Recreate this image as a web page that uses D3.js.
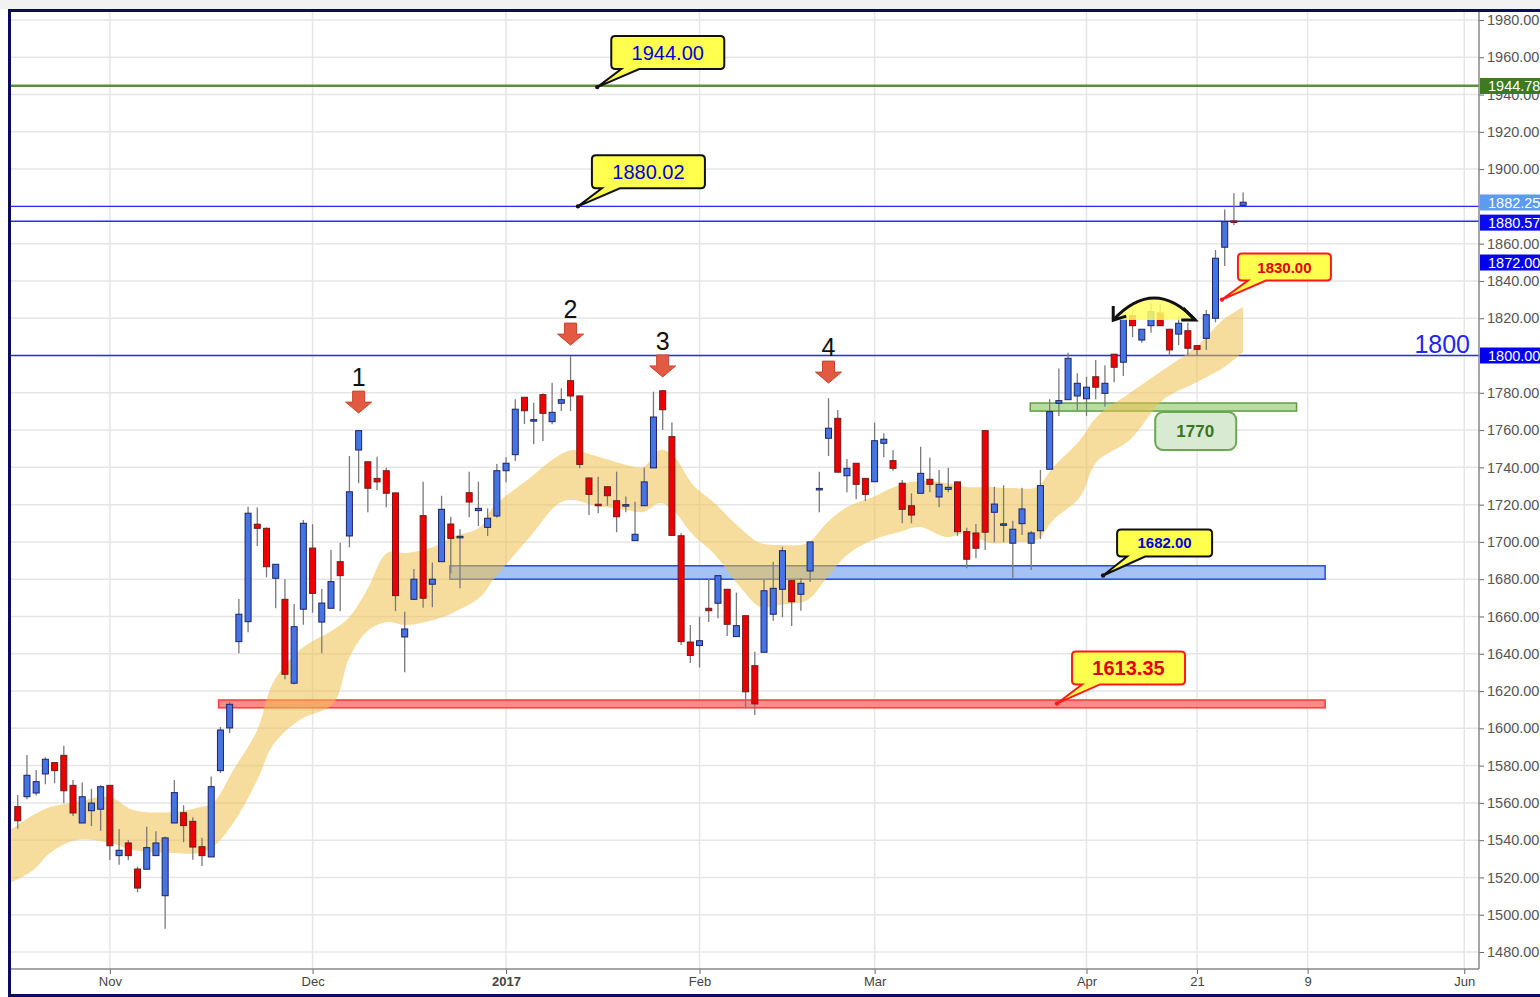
<!DOCTYPE html>
<html>
<head>
<meta charset="utf-8">
<script src="https://cdn.jsdelivr.net/npm/d3@7"></script>
<style>
  body { margin: 0; background: #fff; }
  svg { display: block; font-family: "Liberation Sans", Arial, sans-serif; }
</style>
</head>
<body>
<svg id="chart" width="1540" height="997"></svg>
<script>
// daily candles, index 0 = first bar on the chart (mid Oct 2016)
const openP = [1558.0,1563.3,1565.3,1575.5,1581.6,1585.5,1569.4,1549.2,1555.8,1556.6,
  1569.4,1531.7,1538.5,1524.5,1524.4,1531.7,1510.2,1549.2,1554.7,1550.1,
  1536.5,1531.0,1577.3,1600.2,1646.5,1657.2,1709.5,1707.3,1680.5,1669.2,
  1624.2,1663.9,1696.7,1657.0,1664.4,1689.4,1703.2,1749.3,1743.0,1734.1,
  1738.2,1726.3,1649.0,1669.2,1714.1,1677.3,1689.4,1709.6,1702.5,1726.4,
  1716.8,1707.8,1713.9,1738.2,1746.8,1777.6,1765.2,1779.0,1764.5,1774.4,
  1786.5,1778.3,1734.3,1720.2,1729.6,1722.1,1719.6,1700.7,1719.4,1739.7,
  1781.1,1756.5,1703.3,1646.3,1644.4,1664.4,1667.1,1674.6,1649.2,1660.4,
  1633.6,1640.8,1661.2,1674.6,1679.2,1671.9,1684.4,1728.3,1755.6,1766.3,
  1735.5,1742.2,1734.1,1732.3,1752.9,1743.6,1731.5,1719.4,1726.1,1733.6,
  1724.1,1728.2,1732.2,1705.5,1704.8,1759.7,1715.9,1709.3,1699.3,1709.8,
  1699.3,1706.0,1739.0,1774.4,1776.3,1778.3,1776.8,1788.6,1779.7,1800.7,
  1796.4,1821.4,1808.3,1816.0,1822.8,1814.1,1811.5,1813.3,1805.3,1809.2,
  1820.0,1858.1,1872.2,1880.57];
const highP = [1564.2,1585.7,1577.6,1584.5,1582.0,1590.7,1572.3,1571.0,1567.5,1569.4,
  1569.6,1546.0,1540.1,1525.8,1547.2,1544.8,1541.9,1572.3,1558.7,1552.3,
  1541.3,1574.1,1600.7,1614.1,1669.4,1718.9,1718.4,1707.8,1688.2,1680.0,
  1666.7,1711.8,1709.5,1674.7,1695.7,1699.6,1746.1,1759.7,1743.2,1745.7,
  1739.8,1726.5,1662.6,1685.5,1732.3,1688.9,1724.8,1713.5,1706.8,1737.7,
  1732.3,1718.0,1741.8,1745.4,1776.5,1777.8,1774.7,1779.7,1785.4,1782.4,
  1799.7,1778.5,1734.5,1735.0,1729.8,1737.7,1724.3,1721.6,1739.8,1780.6,
  1781.3,1764.0,1704.6,1655.4,1659.9,1680.1,1681.9,1674.8,1672.8,1660.6,
  1641.1,1679.6,1689.4,1697.4,1679.4,1680.5,1700.0,1737.7,1777.1,1770.8,
  1744.5,1742.4,1734.3,1764.0,1758.3,1749.3,1733.2,1726.1,1751.1,1745.2,
  1738.6,1739.8,1732.4,1707.6,1709.6,1759.9,1729.6,1730.4,1711.4,1729.1,
  1705.9,1738.6,1776.5,1793.1,1801.5,1790.5,1788.6,1797.6,1794.8,1800.9,
  1820.3,1824.8,1814.1,1828.0,1827.6,1814.3,1820.8,1817.6,1805.5,1824.4,
  1856.6,1878.4,1887.0,1887.4];
const lowP = [1546.1,1561.9,1563.9,1570.0,1570.5,1559.8,1553.0,1549.2,1547.6,1545.1,
  1529.4,1526.8,1529.4,1512.0,1524.4,1531.7,1492.5,1549.2,1538.9,1529.5,
  1526.1,1531.0,1576.0,1597.5,1640.3,1651.5,1697.8,1681.0,1664.4,1626.3,
  1623.6,1655.6,1662.0,1640.3,1664.4,1662.9,1697.1,1731.5,1715.9,1727.9,
  1718.6,1662.9,1630.1,1669.2,1664.7,1664.9,1689.4,1683.2,1675.1,1713.2,
  1708.5,1703.2,1713.0,1732.0,1743.4,1763.3,1752.4,1754.1,1763.1,1770.2,
  1770.2,1739.5,1714.4,1715.4,1719.4,1705.2,1715.9,1700.7,1719.4,1739.7,
  1760.0,1703.3,1644.7,1635.0,1632.6,1657.0,1659.0,1649.5,1649.2,1610.7,
  1607.2,1640.8,1657.7,1659.6,1654.9,1663.1,1678.5,1715.9,1746.1,1737.4,
  1726.6,1722.9,1722.0,1732.3,1745.4,1738.2,1710.0,1710.0,1726.1,1726.6,
  1718.6,1726.6,1703.3,1685.9,1691.2,1695.7,1699.8,1699.8,1680.1,1703.7,
  1684.9,1701.6,1739.0,1767.6,1776.3,1770.8,1767.6,1776.5,1772.5,1785.6,
  1789.0,1809.8,1806.9,1812.2,1816.0,1799.9,1805.6,1799.9,1799.9,1803.0,
  1817.8,1848.0,1870.0,1880.3];
const closeP = [1550.4,1574.8,1571.4,1583.4,1577.3,1566.5,1554.6,1563.3,1559.9,1568.7,
  1537.0,1534.6,1531.7,1514.3,1536.0,1538.5,1541.2,1565.5,1547.8,1536.3,
  1531.7,1568.7,1599.1,1612.9,1661.2,1715.4,1707.3,1686.7,1688.0,1629.0,
  1654.5,1710.0,1672.4,1667.2,1678.7,1681.9,1726.9,1759.7,1728.8,1732.2,
  1726.1,1671.2,1653.3,1680.0,1669.8,1680.0,1717.5,1701.9,1703.0,1721.4,
  1718.0,1712.7,1738.2,1742.2,1771.2,1770.4,1765.6,1769.0,1769.5,1776.3,
  1778.3,1741.6,1725.5,1719.6,1724.8,1713.5,1720.0,1704.1,1732.2,1767.0,
  1770.9,1703.5,1646.5,1639.1,1647.0,1663.1,1681.9,1655.8,1655.1,1619.6,
  1613.1,1673.8,1675.1,1695.3,1667.9,1677.8,1700.0,1728.7,1761.0,1737.4,
  1739.5,1730.9,1725.5,1754.3,1755.1,1739.5,1717.5,1714.4,1736.8,1730.9,
  1730.9,1729.3,1705.5,1690.7,1696.6,1705.2,1720.3,1709.7,1706.8,1717.7,
  1704.8,1730.2,1769.9,1775.8,1798.5,1785.1,1783.0,1783.0,1785.1,1793.7,
  1820.3,1816.0,1814.1,1823.5,1816.0,1803.0,1817.3,1803.9,1803.3,1821.9,
  1852.2,1871.8,1872.0,1882.25];

// moving-average envelope (read at sample bars)
const envIdx = [-0.84,1.7,3.5,6.4,10,12.5,16.9,19.8,21.2,23.4,26,27.7,30.6,34.2,36,37.9,40.1,42.2,45.1,47.2,
  50.2,51.6,55.3,58.8,60.3,62.4,66.1,67.9,69.7,71.1,73.3,75.5,78.4,80.6,82.7,85.7,87.8,90,92.8,95.7,
  97.9,100.8,103,105.5,108,110.6,112.4,115.3,117.1,120.7,124.3,128,130.8,133];
const envUpper = [1545.4,1553.5,1557.8,1560.5,1563.2,1556.2,1555.1,1557.8,1560.0,1577.6,1599.1,1624.3,1642.0,1652.7,1659.7,1674.2,1694.1,1694.1,1697.3,1702.6,
  1708.0,1718.7,1733.2,1746.6,1749.3,1746.6,1741.3,1740.2,1749.3,1746.6,1730.5,1721.4,1707.5,1699.4,1698.3,1699.4,1710.2,1718.7,1724.1,1730.5,
  1732.7,1731.6,1729.5,1729.5,1728.9,1729.5,1740.2,1754.7,1767.0,1779.9,1792.2,1805.1,1819.0,1826.0];
const envLower = [1517.0,1524.0,1533.1,1540.1,1538.5,1534.7,1533.1,1533.1,1536.3,1549.2,1572.3,1591.0,1604.5,1613.0,1638.0,1652.0,1657.0,1655.4,1658.1,1661.9,
  1670.4,1679.6,1701.0,1720.9,1722.5,1719.8,1717.1,1716.0,1720.9,1717.1,1703.7,1694.0,1675.8,1665.1,1666.2,1668.8,1680.6,1693.0,1701.0,1705.3,
  1708.0,1702.6,1704.8,1699.4,1699.9,1701.0,1711.8,1724.1,1743.0,1754.7,1776.1,1785.8,1793.3,1801.9];

const xTickIdx = [10, 32, 53, 74, 93, 116, 128, 140, 157];
const xTickLabels = ["Nov", "Dec", "2017", "Feb", "Mar", "Apr", "21", "9", "Jun"];
const yTicks = d3.range(1480, 1981, 20);

const lineLevels = [1944.78, 1880.02, 1872, 1800];
const zoneFrom = [46.9, 21.8, 109.9];
const zoneTo = [141.9, 141.9, 138.8];
const zoneLow = [1680.0, 1611.0, 1770.2];
const zoneHigh = [1687.2, 1615.2, 1774.5];

const tagText = ["1944.78", "1882.25", "1880.57", "1872.00", "1800.00"];
const tagAt = [1944.6, 1882.1, 1871.3, 1849.9, 1800];

const calloutText = ["1944.00", "1880.02", "1682.00", "1613.35", "1830.00"];
const calloutIdx = [62.9, 60.8, 117.8, 112.8, 130.7];
const calloutVal = [1944, 1880.02, 1682, 1613.35, 1830];

const peakLabel = ["1", "2", "3", "4"];
const peakIdx = [37, 60, 70, 88];
const peakLevel = [1769.1, 1805.6, 1788.5, 1785.2];

const svg = d3.select("#chart");

const x = d3.scaleLinear().domain([-0.84, 158.6]).range([10, 1479]);
const y = d3.scaleLinear().domain([1480, 1980]).range([952, 20]);

// frame
svg.append("rect").attr("width", 1540).attr("height", 997).attr("fill", "#fff");
svg.append("rect").attr("width", 1540).attr("height", 9).attr("fill", "#f2f2f2");

svg.append("clipPath").attr("id", "plot")
  .append("rect").attr("x", 10).attr("y", 12).attr("width", 1469).attr("height", 957);

const plot = svg.append("g").attr("clip-path", "url(#plot)");

// grid
plot.append("g").selectAll("line").data(yTicks).join("line")
  .attr("x1", 10).attr("x2", 1479)
  .attr("y1", d => y(d)).attr("y2", d => y(d))
  .attr("stroke", "#e6e6e6").attr("stroke-width", 1.5);
plot.append("g").selectAll("line").data(xTickIdx).join("line")
  .attr("x1", d => x(d)).attr("x2", d => x(d))
  .attr("y1", 12).attr("y2", 969)
  .attr("stroke", "#e6e6e6").attr("stroke-width", 1.5);

// zones
const zoneFill = ["#a4c2f4", "#ff8a8a", "#b9dca4"];
const zoneStroke = ["#2b45f0", "#ff3a3a", "#5f9e3f"];
plot.append("g").selectAll("rect").data(zoneFrom).join("rect")
  .attr("x", (d, i) => x(d))
  .attr("width", (d, i) => x(zoneTo[i]) - x(d))
  .attr("y", (d, i) => y(zoneHigh[i]))
  .attr("height", (d, i) => y(zoneLow[i]) - y(zoneHigh[i]))
  .attr("fill", (d, i) => zoneFill[i])
  .attr("stroke", (d, i) => zoneStroke[i]).attr("stroke-width", 1.5);

// horizontal level lines
const lineColor = ["#5b8f3a", "#2b2bff", "#2b2bff", "#2b2bff"];
const lineWidth = [2.5, 1.2, 1.4, 1.4];
plot.append("g").selectAll("line").data(lineLevels).join("line")
  .attr("x1", 10).attr("x2", 1479)
  .attr("y1", d => y(d)).attr("y2", d => y(d))
  .attr("stroke", (d, i) => lineColor[i]).attr("stroke-width", (d, i) => lineWidth[i]);

// envelope
const env = d3.area()
  .x(i => x(envIdx[i]))
  .y0(i => y(envLower[i]))
  .y1(i => y(envUpper[i]))
  .curve(d3.curveCatmullRom);
plot.append("path").datum(d3.range(envIdx.length))
  .attr("d", env).attr("fill", "#efc14c").attr("fill-opacity", 0.55);

// candles
const bars = d3.range(openP.length);
const up = i => closeP[i] >= openP[i];
plot.append("g").selectAll("line").data(bars).join("line")
  .attr("x1", i => x(i)).attr("x2", i => x(i))
  .attr("y1", i => y(highP[i])).attr("y2", i => y(lowP[i]))
  .attr("stroke", "#7a7a7a").attr("stroke-width", 1.3);
plot.append("g").selectAll("rect").data(bars).join("rect")
  .attr("x", i => x(i) - 3)
  .attr("width", 6)
  .attr("y", i => y(Math.max(openP[i], closeP[i])))
  .attr("height", i => Math.max(1.5, Math.abs(y(openP[i]) - y(closeP[i]))))
  .attr("fill", i => up(i) ? "#4575e2" : "#ef0000")
  .attr("stroke", i => up(i) ? "#1f2366" : "#6e1c1c")
  .attr("stroke-width", 1);

// peak markers
const pk = plot.append("g").selectAll("g").data(peakIdx).join("g")
  .attr("transform", (d, i) => `translate(${x(d)},${y(peakLevel[i])})`);
pk.append("path")
  .attr("d", "M-6,-22H6V-11H13L0,0L-13,-11H-6Z")
  .attr("fill", "#e35a42").attr("stroke", "#c8462e").attr("stroke-width", 1);
pk.append("text").text((d, i) => peakLabel[i])
  .attr("y", -27).attr("text-anchor", "middle")
  .attr("font-size", 25).attr("fill", "#111");

// rounded arc over the Apr range
const arcFrom = 118.9, arcTo = 127.8, arcBase = 1819, arcTop = 1830.8;
{
  const x1 = x(arcFrom), x2 = x(arcTo), yb = y(arcBase);
  const cy = 2 * y(arcTop) - yb, xm = (x1 + x2) / 2;
  plot.append("path")
    .attr("d", `M${x1},${yb}Q${xm},${cy} ${x2},${yb}Z`)
    .attr("fill", "#ffff66").attr("fill-opacity", 0.85);
  plot.append("path")
    .attr("d", `M${x1},${yb}Q${xm},${cy} ${x2},${yb}`)
    .attr("fill", "none").attr("stroke", "#111").attr("stroke-width", 3);
  plot.append("path")
    .attr("d", `M${x1},${yb - 14}L${x1},${yb}L${x1 + 13},${yb - 4}M${x2 - 12},${yb - 12}L${x2},${yb}L${x2 - 14},${yb}`)
    .attr("fill", "none").attr("stroke", "#111").attr("stroke-width", 3)
    .attr("stroke-linejoin", "miter");
}

// callouts
const coBox = [[14, -51, 113, 33], [14, -51, 113, 33], [14, -46, 95, 27], [15, -52, 113, 33], [16, -46, 93, 27]];
const coText = ["#0000dd", "#0000dd", "#0000dd", "#e00000", "#e00000"];
const coBorder = ["#111", "#111", "#111", "#ff1a1a", "#ff1a1a"];
const coSize = [20, 20, 15, 20, 15];
const coWeight = ["normal", "normal", "bold", "bold", "bold"];

function calloutPath(L, T, w, h, tx, ty, r) {
  const R = L + w, B = T + h;
  return `M${L + r},${T}H${R - r}Q${R},${T} ${R},${T + r}V${B - r}Q${R},${B} ${R - r},${B}` +
    `H${L + 28}L${tx},${ty}L${L + 10},${B}H${L + r}Q${L},${B} ${L},${B - r}V${T + r}Q${L},${T} ${L + r},${T}Z`;
}
const co = plot.append("g").selectAll("g").data(calloutIdx).join("g");
co.append("path")
  .attr("d", (d, i) => {
    const tx = x(d), ty = y(calloutVal[i]);
    const b = coBox[i];
    return calloutPath(tx + b[0], ty + b[1], b[2], b[3], tx, ty, 4);
  })
  .attr("fill", "#ffff4d").attr("stroke", (d, i) => coBorder[i]).attr("stroke-width", 2);
co.append("circle")
  .attr("cx", d => x(d)).attr("cy", (d, i) => y(calloutVal[i])).attr("r", 2.2)
  .attr("fill", (d, i) => i >= 3 ? "#ff1a1a" : "#111");
co.append("text").text((d, i) => calloutText[i])
  .attr("x", (d, i) => x(d) + coBox[i][0] + coBox[i][2] / 2)
  .attr("y", (d, i) => y(calloutVal[i]) + coBox[i][1] + coBox[i][3] / 2)
  .attr("dy", "0.36em").attr("text-anchor", "middle")
  .attr("font-size", (d, i) => coSize[i]).attr("font-weight", (d, i) => coWeight[i])
  .attr("fill", (d, i) => coText[i]);

// green 1770 label box
const boxIdx = 127.8, boxVal = 1759.5;
plot.append("rect")
  .attr("x", x(boxIdx) - 40).attr("y", y(boxVal) - 19)
  .attr("width", 81).attr("height", 38).attr("rx", 8)
  .attr("fill", "#d9ead3").attr("stroke", "#6aa84f").attr("stroke-width", 2);
plot.append("text").text("1770")
  .attr("x", x(boxIdx)).attr("y", y(boxVal)).attr("dy", "0.36em")
  .attr("text-anchor", "middle").attr("font-size", 17).attr("font-weight", "bold")
  .attr("fill", "#38761d");

// 1800 big label
plot.append("text").text("1800")
  .attr("x", 1470).attr("y", y(1801.6))
  .attr("text-anchor", "end").attr("font-size", 25).attr("fill", "#2424f0");

// axes (the 1880 label sits fully under the last-price tag, so it is left out)
const yAxis = svg.append("g").attr("transform", "translate(1479,0)")
  .call(d3.axisRight(y).tickValues(yTicks)
    .tickFormat(d => d === 1880 ? "" : d3.format(".2f")(d)).tickSize(5).tickPadding(3));
yAxis.select(".domain").remove();
yAxis.selectAll("line").attr("stroke", "#666");
yAxis.selectAll("text").attr("font-size", 14.5).attr("fill", "#555")
  .attr("font-family", "'Liberation Sans', Arial, sans-serif");

const xAxis = svg.append("g").attr("transform", "translate(0,969)")
  .call(d3.axisBottom(x).tickValues(xTickIdx).tickFormat((d, i) => xTickLabels[i]).tickSize(5).tickPadding(3));
xAxis.select(".domain").remove();
xAxis.selectAll("line").attr("stroke", "#666");
xAxis.selectAll("text").attr("font-size", 13).attr("fill", "#444")
  .attr("font-family", "'Liberation Sans', Arial, sans-serif")
  .attr("font-weight", (d, i) => xTickLabels[i] === "2017" ? "bold" : "normal");

svg.append("line").attr("x1", 10).attr("x2", 1479).attr("y1", 969).attr("y2", 969)
  .attr("stroke", "#888").attr("stroke-width", 1.5);
svg.append("line").attr("x1", 1479).attr("x2", 1479).attr("y1", 12).attr("y2", 969)
  .attr("stroke", "#888").attr("stroke-width", 1.5);

// price tags on the right axis
const tagFill = ["#3d7a22", "#5b9cf0", "#0a0af0", "#0000ee", "#0000ee"];
const tg = svg.append("g").selectAll("g").data(tagAt).join("g")
  .attr("transform", d => `translate(1480,${y(d)})`);
tg.append("rect").attr("x", 0).attr("y", -8).attr("width", 62).attr("height", 16)
  .attr("fill", (d, i) => tagFill[i]);
tg.append("text").text((d, i) => tagText[i])
  .attr("x", 8).attr("dy", "0.36em").attr("font-size", 14.5).attr("fill", "#fff");

// outer navy frame
svg.append("rect").attr("x", 8).attr("y", 9).attr("width", 1532).attr("height", 3).attr("fill", "#0b0b5e");
svg.append("rect").attr("x", 8).attr("y", 9).attr("width", 3).attr("height", 988).attr("fill", "#0b0b5e");
svg.append("rect").attr("x", 8).attr("y", 994).attr("width", 1532).attr("height", 3).attr("fill", "#0b0b5e");
</script>
</body>
</html>
